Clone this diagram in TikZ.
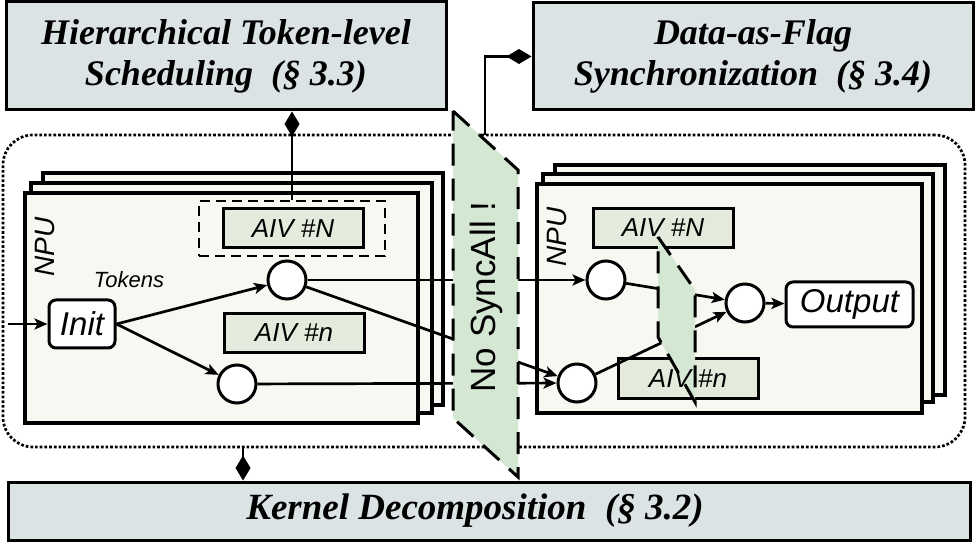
\documentclass[tikz,border=0pt]{standalone}
\usepackage{fontspec}
\setmainfont{Liberation Serif}
\newfontfamily\npufont{Liberation Sans}
\usetikzlibrary{arrows.meta,positioning}

\definecolor{secgray}{HTML}{DCE3E5}
\definecolor{npuwhite}{HTML}{F9F7F2}
\definecolor{aivgreen}{HTML}{E4EADC}
\definecolor{syncgreen}{HTML}{D4E7D3}

\tikzset{
  section/.style={draw, line width=3pt, fill=secgray, align=center,
    font=\fontsize{36}{41}\selectfont\bfseries\itshape},
  npubox/.style={draw, line width=3.2pt, fill=npuwhite},
  aiv/.style={draw, line width=3pt, fill=aivgreen, minimum width=140pt,
    minimum height=39pt, font=\npufont\itshape\fontsize{26}{30}\selectfont},
  tok/.style={circle, draw, line width=3pt, fill=white, minimum size=38pt, inner sep=0pt},
  stage/.style={draw, line width=3pt, fill=white, rounded corners=7pt, inner sep=0pt,
    font=\npufont\itshape\fontsize{33}{36}\selectfont},
  flow/.style={line width=2.7pt, -{Stealth[length=13pt,width=11pt,inset=3pt]}},
  has/.style={line width=2.6pt, {Diamond[length=25pt,width=15pt]}-},
  syncfill/.style={fill=syncgreen},
  syncedge/.style={line width=3pt, dash pattern=on 22pt off 13pt},
  lbl/.style={font=\npufont\itshape\fontsize{#1}{#1}\selectfont, inner sep=0pt},
}

\begin{document}
\begin{tikzpicture}[x=1pt,y=-1pt]
\useasboundingbox (0,0) rectangle (975,545);

% sections
\node[section, minimum width=440pt, minimum height=108pt] (hts) at (226,56)
  {Hierarchical Token-level\\Scheduling~~(\S~3.3)};
\node[section, minimum width=440pt, minimum height=107pt] (dfs) at (753,56.5)
  {Data-as-Flag\\Synchronization~~(\S~3.4)};
\node[section, minimum width=962pt, minimum height=58pt,
  font=\fontsize{37}{41}\selectfont\bfseries\itshape] (kd) at (489,511)
  {Kernel Decomposition~~(\S~3.2)\kern28pt};

\node[draw, line width=2.7pt, dash pattern=on 2.7pt off 2pt, rounded corners=30pt,
  minimum width=962pt, minimum height=312pt] (frame) at (484,291) {};

% stacked NPUs
\foreach \xa/\ya/\xb/\yb in {43/173/443/405, 31/183/432/413, 25/193/418/423,
                              555/165/945/395, 543/174/933/402, 537/184/922/413}
  \draw[npubox] (\xa,\ya) rectangle (\xb,\yb);
\node[lbl=28, rotate=90] (npuL) at (45,247) {NPU};
\node[lbl=28, rotate=90] (npuR) at (557,237) {NPU};

% left NPU
\node[draw, line width=2.7pt, dash pattern=on 10pt off 6pt, minimum width=186pt,
  minimum height=55pt] (aivsel) at (292,228.5) {};
\node[aiv] (aivN) at (293,228.5) {AIV \#N};
\node[aiv] (aivn) at (294,333) {AIV \#n};
\node[stage, minimum width=66pt, minimum height=48pt] (init) at (82,324) {Init};
\node[lbl=22] (tokens) at (129,280) {Tokens};
\node[tok] (lu) at (287,280) {};
\node[tok] (ll) at (237,384) {};

% right NPU
\node[aiv] (aivRN) at (663,228) {};
\node[aiv] (aivRn) at (688,378.5) {};
\node[tok] (ru) at (606,280) {};
\node[tok] (rl) at (577,383) {};
\node[tok] (oc) at (745,303) {};
\node[stage, minimum width=127pt, minimum height=45pt] (out) at (849.5,304.5) {Output};

\coordinate (src) at (8,324);
\draw[flow] (src) -- (init);
\draw[flow] (init.east) -- (lu);
\draw[flow] (init.east) -- (ll);
\draw[flow] (lu) -- (ru);
\draw[flow] (lu) -- (rl);
\draw[flow] (ll) -- (rl);
\draw[flow] (ru) -- (oc);
\draw[flow] (rl) -- (oc);
\draw[flow] (oc) -- (out);

% no global barrier between the devices
\coordinate (s1) at (453,111);
\coordinate (s2) at (518,170);
\coordinate (s3) at (518,477);
\coordinate (s4) at (453,418);
\fill[syncfill] (s1) -- (s2) -- (s3) -- (s4) -- cycle;
\node[font=\npufont\fontsize{35}{35}\selectfont, rotate=90] (nosync) at (486,297) {No SyncAll !};
\draw[syncedge] (s1) -- (s2) -- (s3) -- (s4) -- cycle;

% ... and none between the AIVs
\coordinate (t1) at (658,237);
\coordinate (t2) at (695,290);
\coordinate (t3) at (695,402);
\coordinate (t4) at (658,337);
\fill[syncfill] (t1) -- (t2) -- (t3) -- (t4) -- cycle;
\node[lbl=26] (aivRNtxt) at (aivRN) {AIV \#N};
\node[lbl=26] (aivRntxt) at (aivRn) {AIV \#n};
\draw[syncedge] (t1) -- (t2) -- (t3) -- (t4) -- cycle;

% which section handles what
\coordinate (flagdrop) at (485,135);
\coordinate (kdtap) at (243,447);
\draw[has] (hts.south -| aivsel.north) -- (aivsel.north);
\draw[has] (dfs.west) -| (flagdrop);
\draw[has] (kd.north -| kdtap) -- (kdtap);
\end{tikzpicture}
\end{document}
